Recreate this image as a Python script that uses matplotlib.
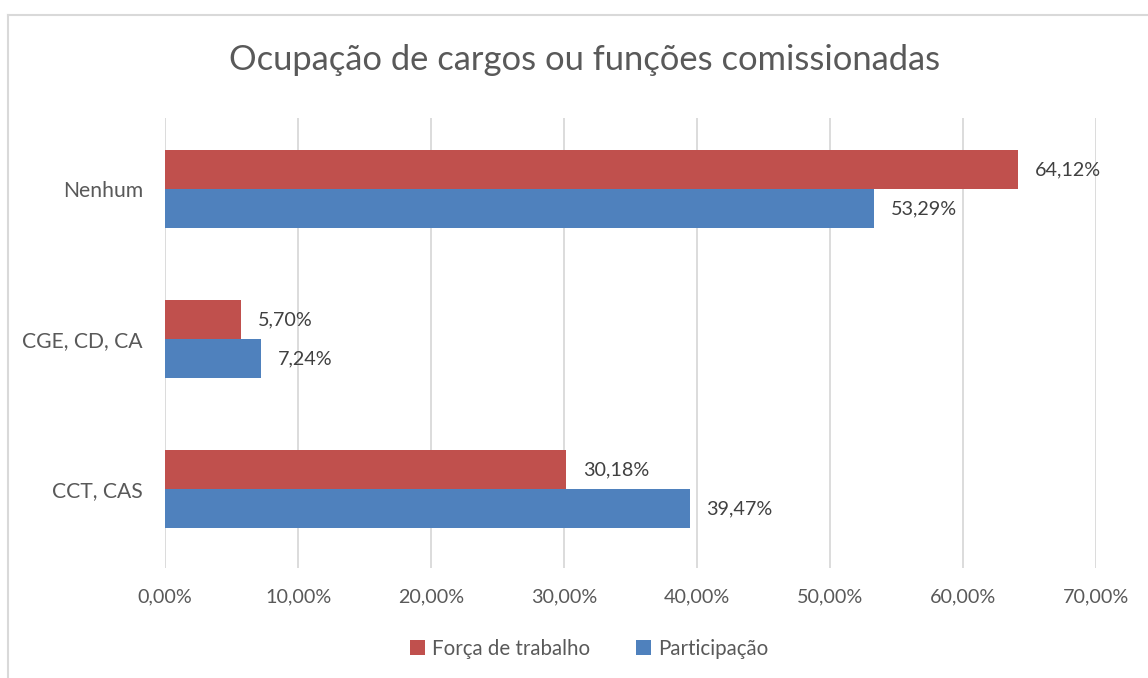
import matplotlib.pyplot as plt
from matplotlib.lines import Line2D
from matplotlib.ticker import FuncFormatter
import numpy as np

categories = ["CCT, CAS", "CGE, CD, CA", "Nenhum"]
forca_trabalho = [30.18, 5.70, 64.12]
participacao = [39.47, 7.24, 53.29]
series_names = ["Força de trabalho", "Participação"]

RED = "#C0504D"
BLUE = "#4F81BD"
GRID = "#D9D9D9"
TXT = "#595959"

plt.rcParams['font.family'] = ['Lato', 'DejaVu Sans']

fig = plt.figure(figsize=(11.48, 6.78), dpi=100)
ax = fig.add_axes([165 / 1148, 1 - 568 / 678, (1096 - 165) / 1148, (568 - 118) / 678])

y = np.arange(len(categories))
h = 0.26
ax.barh(y + h / 2, forca_trabalho, height=h, color=RED, label=series_names[0], zorder=3)
ax.barh(y - h / 2, participacao, height=h, color=BLUE, label=series_names[1], zorder=3)

def pct(v):
    return f"{v:.2f}%".replace(".", ",")

for yi, v in zip(y, forca_trabalho):
    ax.text(v + 1.25, yi + h / 2, pct(v), va='center', ha='left', fontsize=14.2, color="#404040")
for yi, v in zip(y, participacao):
    ax.text(v + 1.25, yi - h / 2, pct(v), va='center', ha='left', fontsize=14.2, color="#404040")

ax.set_xlim(0, 70)
ax.set_ylim(-0.527, 2.473)
ax.set_xticks(np.arange(0, 71, 10))
ax.xaxis.set_major_formatter(FuncFormatter(lambda v, p: pct(v)))
ax.set_yticks(y)
ax.set_yticklabels(categories)
ax.tick_params(axis='both', length=0, colors=TXT)
ax.tick_params(axis='x', pad=15, labelsize=14.2)
ax.tick_params(axis='y', pad=16, labelsize=15.2)
ax.grid(axis='x', color=GRID, linewidth=1.3, zorder=0)
for s in ax.spines.values():
    s.set_visible(False)

fig.text(585 / 1148, 1 - 60 / 678, "Ocupação de cargos ou funções comissionadas",
         ha='center', va='center', fontsize=24.8, color=TXT)

fig.legend(loc='center', bbox_to_anchor=(589 / 1148, 1 - 649 / 678), ncol=2, frameon=False,
           fontsize=14.8, labelcolor=TXT, handlelength=0.75, handleheight=0.75,
           handletextpad=0.35, columnspacing=2.2)

# outer chart border (only top and left visible)
fig.add_artist(Line2D([8 / 1148, 1], [1 - 15 / 678, 1 - 15 / 678], color=GRID, lw=1.5))
fig.add_artist(Line2D([8 / 1148, 8 / 1148], [0, 1 - 15 / 678], color=GRID, lw=1.5))

fig.savefig("out.png", dpi=100)
